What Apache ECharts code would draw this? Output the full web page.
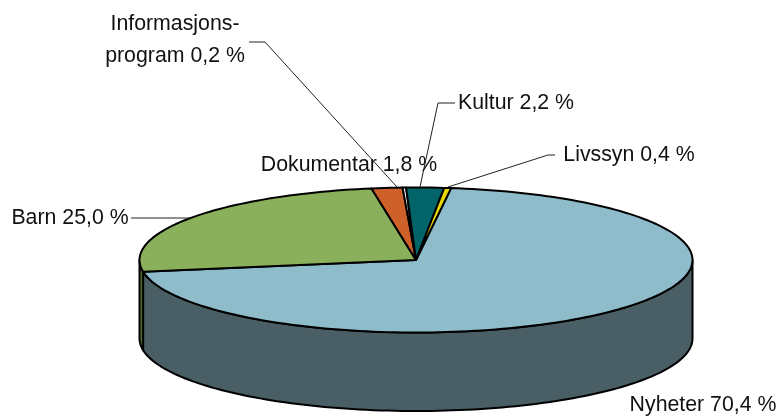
<!DOCTYPE html>
<html><head><meta charset="utf-8">
<style>html,body{margin:0;padding:0;background:#fff}#c{width:780px;height:416px}</style>
<script src="https://cdn.jsdelivr.net/npm/echarts@6/dist/echarts.min.js"></script>
</head><body><div id="c"></div>
<script>
const categories = ['Nyheter','Barn','Dokumentar','Informasjonsprogram','Kultur','Livssyn'];
const labels = ['Nyheter 70,4 %','Barn 25,0 %','Dokumentar 1,8 %','Informasjons-\nprogram 0,2 %','Kultur 2,2 %','Livssyn 0,4 %'];
const values = [70.4,25.0,1.8,0.2,2.2,0.4];
const topColors = ['#8FBCCB','#8AB05C','#CE6029','#FFFFFF','#006468','#E6D800'];
const sideColors = ['#495F65','#4F6A2E','#7A3A18','#999999','#003C3E','#8A8200'];

const geo = {cx:416, cy:260, rx:276.5, ry:72.5, depth:78.5, start:7.3};
const labelLayout = [
  {x:703, y:405, line:null},
  {x:70,  y:218, line:[[131,218],[190,218]]},
  {x:349, y:165, line:null},
  {x:175, y:40,  line:[[249,42],[265,42],[397,187]]},
  {x:516, y:103, line:[[455,103],[438,103],[420,187]]},
  {x:629, y:155, line:[[555,155],[548,155],[448,187]]}
];
const total = values.reduce((a,b)=>a+b,0);
const starts = [];
values.reduce((acc,v,i)=>{starts[i]=acc;return acc+v/total*360;},geo.start);

function pt(deg,dy){const t=deg*Math.PI/180;return [geo.cx+geo.rx*Math.sin(t),geo.cy-geo.ry*Math.cos(t)+(dy||0)];}
function arc(a,b,dy){const n=Math.max(2,Math.ceil(Math.abs(b-a)/1.5));const o=[];for(let i=0;i<=n;i++)o.push(pt(a+(b-a)*i/n,dy));return o;}
const stroke={stroke:'#000',lineWidth:2,lineJoin:'round'};

function renderSide(params,api){
  const i=params.dataIndex, a=starts[i], b=a+api.value(0)/total*360;
  const lo=Math.max(a,90), hi=Math.min(b,270);
  if(hi<=lo) return {type:'group',children:[]};
  const pts=arc(lo,hi,0).concat(arc(hi,lo,geo.depth));
  return {type:'polygon',shape:{points:pts},style:Object.assign({fill:sideColors[i]},stroke)};
}
function renderTop(params,api){
  const i=params.dataIndex, a=starts[i], b=a+api.value(0)/total*360;
  const pts=[[geo.cx,geo.cy]].concat(arc(a,b,0));
  return {type:'polygon',shape:{points:pts},style:Object.assign({fill:topColors[i]},stroke)};
}
function renderLabel(params){
  const i=params.dataIndex, l=labelLayout[i], ch=[];
  if(l.line) ch.push({type:'polyline',shape:{points:l.line},style:{stroke:'#222',lineWidth:1,fill:null}});
  ch.push({type:'text',style:{x:l.x,y:l.y,text:labels[i],align:'center',verticalAlign:'middle',
    font:'21.3px "Liberation Sans"',lineHeight:32,fill:'#111'}});
  return {type:'group',children:ch};
}
const data=categories.map((n,i)=>({name:n,value:[values[i]]}));
const chart=echarts.init(document.getElementById('c'),null,{renderer:'canvas'});
chart.setOption({
  animation:false,
  backgroundColor:'#fff',
  tooltip:{show:false},
  series:[
    {type:'custom',coordinateSystem:'none',renderItem:renderSide,data:data,z:1,silent:true},
    {type:'custom',coordinateSystem:'none',renderItem:renderTop,data:data,z:2,silent:true},
    {type:'custom',coordinateSystem:'none',renderItem:renderLabel,data:data,z:3,silent:true}
  ]
});
</script></body></html>
